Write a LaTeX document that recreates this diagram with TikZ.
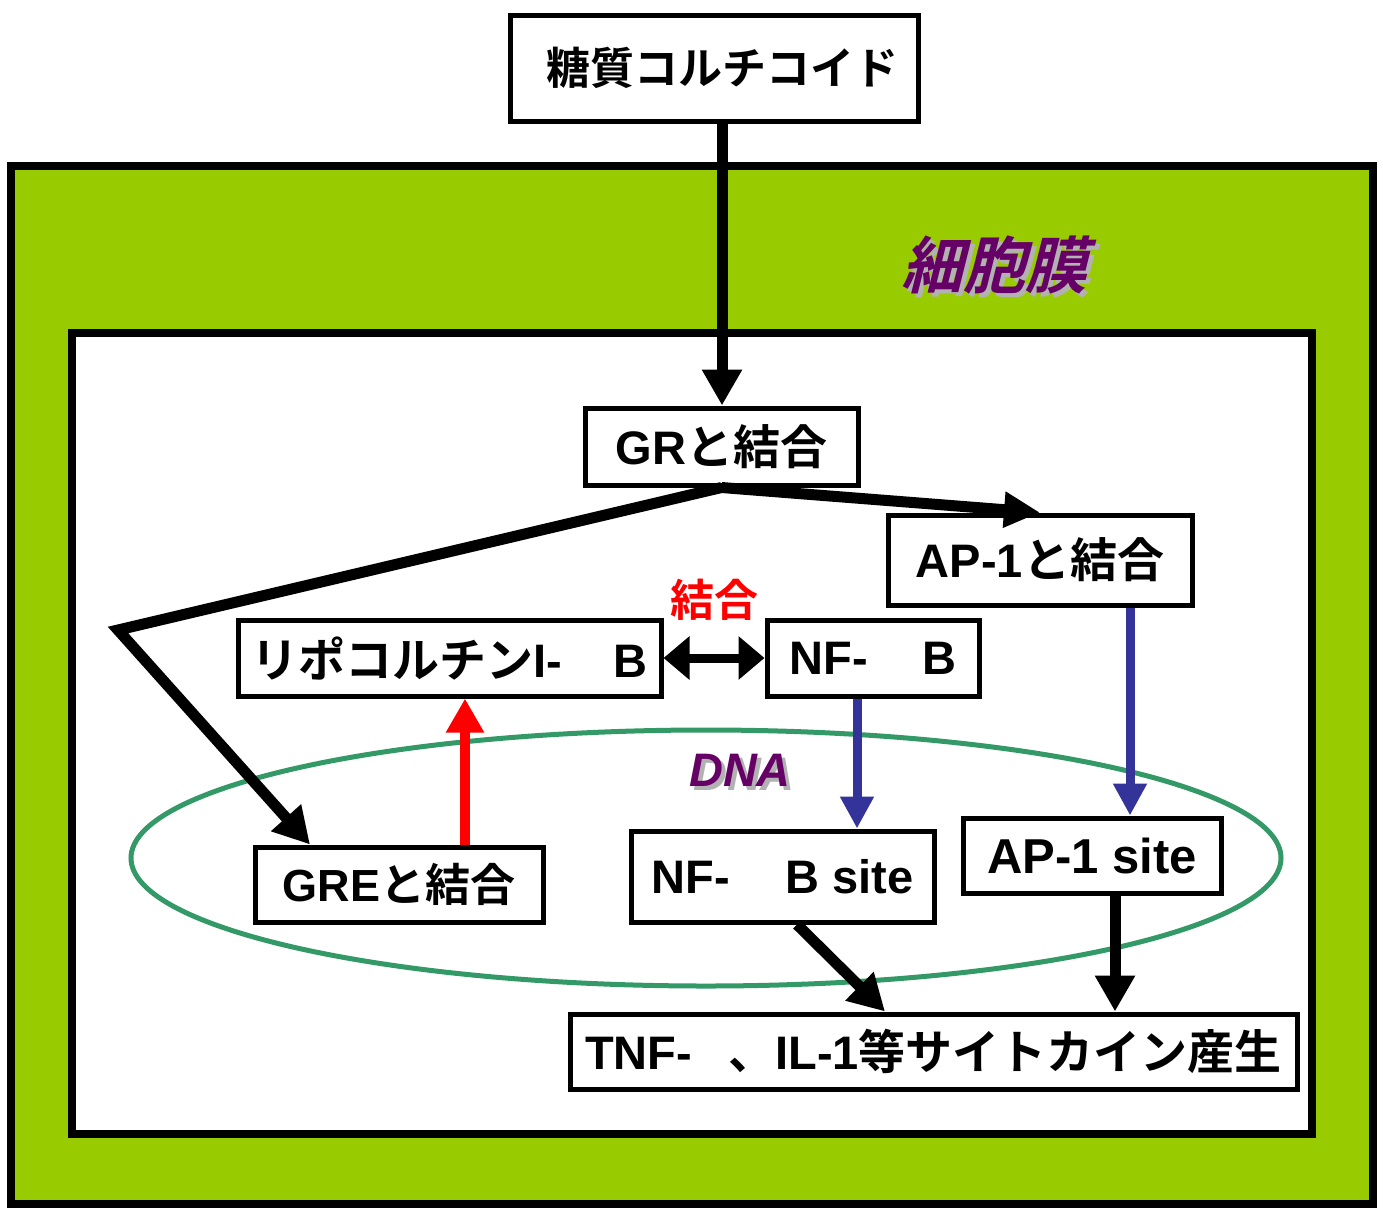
\documentclass[tikz,border=0pt]{standalone}
\usepackage{fontspec}
\setmainfont{Liberation Sans}
\newfontfamily\jp{Noto Sans CJK JP}[BoldFont={* Bold}]
\newfontfamily\jpsl{Noto Sans CJK JP Bold}[FakeSlant=0.25]
\usetikzlibrary{arrows.meta,calc}
\definecolor{cellgreen}{HTML}{99CC00}
\definecolor{dnagreen}{HTML}{339966}
\definecolor{navy}{HTML}{333399}
\definecolor{purp}{HTML}{660066}
\newcommand{\J}[1]{{\jp\bfseries #1}}
\newcommand{\gap}[1]{\hspace*{#1}}
\newcommand{\shadowed}[1]{\makebox[0pt][l]{\hspace*{4pt}\raisebox{-4pt}{\color{black!30}#1}}{\color{purp}#1}}
\tikzset{
  box/.style={draw=black, line width=5pt, fill=white, inner sep=0pt, font=\fontsize{47}{52}\selectfont\bfseries},
  conn/.style={line width=11pt, -{Triangle[length=36pt,width=38pt]}},
  blueconn/.style={draw=navy, line width=9pt, -{Triangle[length=32pt,width=32pt]}},
  redconn/.style={draw=red, line width=10pt, -{Triangle[length=34pt,width=36pt]}},
}
\begin{document}
\begin{tikzpicture}[x=1pt,y=-1pt]
\useasboundingbox (0,0) rectangle (1383,1208);
% cell
\draw[line width=8pt, fill=cellgreen] (11,166) rectangle (1373,1204);
\draw[line width=8pt, fill=white] (72,333) rectangle (1312,1134);
% membrane label with shadow
\node[font=\fontsize{62}{66}\selectfont\jpsl] (membrane) at (994,267) {\shadowed{細胞膜}};
% DNA ellipse
\draw[dnagreen, line width=5pt] (706,858) ellipse [x radius=575, y radius=128];
\node[font=\fontsize{47}{52}\selectfont\bfseries\itshape] (dna) at (740,772) {\shadowed{DNA}};
% nodes
\node[box, minimum width=408pt, minimum height=106pt, font=\fontsize{44}{50}\selectfont] (gc) at (714,68) {\hspace*{16pt}\J{糖質コルチコイド}};
\node[box, minimum width=273pt, minimum height=77pt] (gr) at (721.5,446.5) {GR\J{と結合}};
\node[box, minimum width=304pt, minimum height=90pt] (ap1) at (1040,560) {AP-1\J{と結合}};
\node[box, minimum width=423pt, minimum height=76pt] (lipo) at (449.5,658) {\J{リポコルチン}I-\gap{52pt}B};
\node[box, minimum width=212pt, minimum height=76pt] (nfkb) at (873,658) {NF-\gap{55pt}B};
\node[box, minimum width=288pt, minimum height=75pt, font=\fontsize{45}{50}\selectfont\bfseries] (gre) at (399,884.5) {GRE\J{と結合}};
\node[box, minimum width=303pt, minimum height=91pt] (nfsite) at (782.5,876.5) {NF-\gap{56pt}B site};
\node[box, minimum width=258pt, minimum height=75pt, font=\fontsize{49}{52}\selectfont\bfseries] (ap1site) at (1092,855.5) {AP-1 site};
\node[box, minimum width=727pt, minimum height=75pt, font=\fontsize{47}{52}\selectfont\bfseries] (tnf) at (933.5,1051.5) {TNF-\gap{36pt}\J{、}IL-1\J{等サイトカイン産生}};
\node[text=red, font=\fontsize{44}{50}\selectfont\jp\bfseries] (bind) at (714,600) {結合};
% coordinates
\coordinate (bend) at (118,630);
\coordinate (xg) at (310,0);
\coordinate (xr) at (465,0);
\coordinate (xb1) at (857,0);
\coordinate (xb2) at (1130,0);
\coordinate (xd) at (797,0);
\coordinate (xt) at (885,0);
\coordinate (xa) at (1115,0);
\coordinate (xm) at (722,0);
% connectors
\draw[conn] (gc.south -| xm) -- (gr.north -| xm);
\draw[conn, -{Triangle[length=36pt,width=34pt]}] (gr.south) -- (ap1.north);
\draw[conn, line join=miter] (gr.south) -- (bend) -- (gre.north -| xg);
\draw[redconn] (gre.north -| xr) -- (lipo.south -| xr);
\draw[line width=9pt, {Triangle[length=26pt,width=42pt]}-{Triangle[length=26pt,width=42pt]}] (lipo.east) -- (nfkb.west);
\draw[blueconn] (nfkb.south -| xb1) -- (nfsite.north -| xb1);
\draw[blueconn] (ap1.south -| xb2) -- (ap1site.north -| xb2);
\draw[conn] (nfsite.south -| xd) -- (tnf.north -| xt);
\draw[conn] (ap1site.south -| xa) -- (tnf.north -| xa);
\end{tikzpicture}
\end{document}
